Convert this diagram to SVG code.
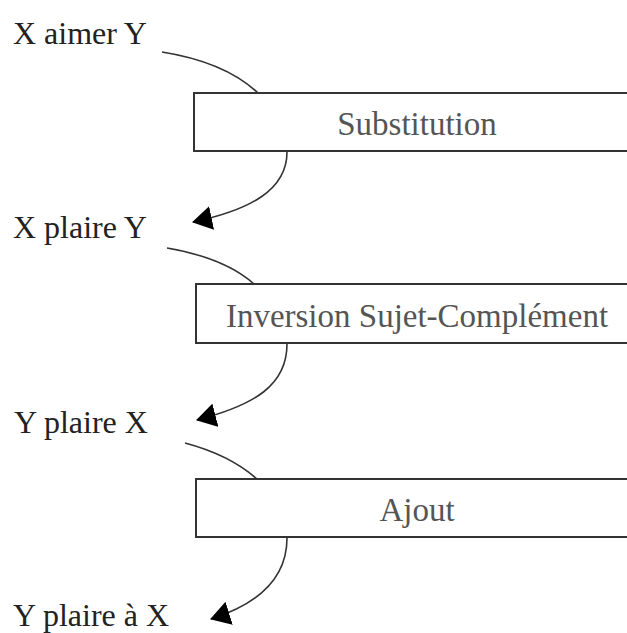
<svg xmlns="http://www.w3.org/2000/svg" width="627" height="633" viewBox="0 0 627 633">
<defs>
<style>
.lbl{font-family:"Liberation Serif","Times New Roman",serif;font-size:32px;fill:#222}
.box rect{fill:#fff;stroke:#333;stroke-width:2}
.box text{font-family:"Liberation Serif","Times New Roman",serif;font-size:33px;fill:#555;text-anchor:middle}
.conn path{fill:none;stroke:#333;stroke-width:1.6}
</style>
<marker id="arr" markerUnits="userSpaceOnUse" viewBox="0 0 20 24" refX="19" refY="12" markerWidth="20" markerHeight="24" orient="auto">
<path d="M0,0 L20,12 L0,24 z" fill="#000"/>
</marker>
</defs>
<rect width="627" height="633" fill="#fff"/>
<g id="lbl1"><text class="lbl" x="13" y="44">X aimer Y</text></g>
<g id="lbl2"><text class="lbl" x="13" y="238">X plaire Y</text></g>
<g id="lbl3"><text class="lbl" x="14" y="433">Y plaire X</text></g>
<g id="lbl4"><text class="lbl" x="13" y="626">Y plaire à X</text></g>
<g id="n1" class="box"><rect x="194" y="93" width="460" height="58"/><text x="417" y="135">Substitution</text></g>
<g id="n2" class="box"><rect x="196" y="284" width="460" height="59"/><text x="417" y="327">Inversion Sujet-Complément</text></g>
<g id="n3" class="box"><rect x="196" y="479" width="460" height="58"/><text x="417" y="521">Ajout</text></g>
<g id="connectors" class="conn">
<path d="M162,52 Q225,62 258,93"/>
<path d="M287,152 C287,190 250,210 193,222" marker-end="url(#arr)"/>
<path d="M167,248 Q225,258 254,284"/>
<path d="M287,344 C287,385 255,405 197,420" marker-end="url(#arr)"/>
<path d="M185,443 Q230,455 257,479"/>
<path d="M287,538 C287,580 255,605 211,619" marker-end="url(#arr)"/>
</g>
</svg>
